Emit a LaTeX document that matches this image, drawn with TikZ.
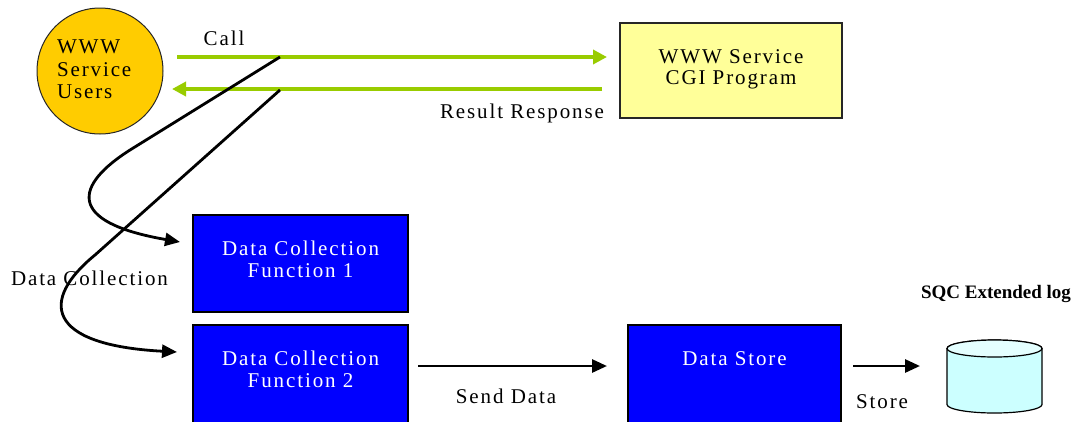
\documentclass[tikz,border=0pt]{standalone}
\usepackage{fontspec}
\setmainfont{Liberation Serif}[LetterSpace=9]
\newfontfamily\boldlabel{Liberation Serif}[LetterSpace=0]
\usetikzlibrary{arrows.meta}
\definecolor{grn}{HTML}{99CC00}
\definecolor{usersfill}{HTML}{FFCC00}
\definecolor{cgifill}{HTML}{FFFF99}
\definecolor{dbfill}{HTML}{CCFFFF}
\definecolor{dbtop}{HTML}{E4FFFF}
\definecolor{boxblue}{HTML}{0000FF}
\begin{document}
\begin{tikzpicture}[x=1pt,y=-1pt,
  every node/.style={inner sep=0pt, outer sep=0pt},
  txt/.style={font=\fontsize{21}{24}\selectfont, anchor=base},
  wtxt/.style={txt, text=white},
  bluebox/.style={draw=black, line width=1.3pt, fill=boxblue, rectangle},
  greenarrow/.style={draw=grn, line width=3.5pt, -{Triangle[length=14pt,width=14pt]}},
  blackarrow/.style={draw=black, line width=2.8pt, -{Triangle[length=15pt,width=13pt]}},
  flowcurve/.style={draw=black, line width=2.8pt, line join=round, -{Triangle[length=15pt,width=13pt]}}
]
\useasboundingbox (0,0) rectangle (1083,421);
\clip (0,0) rectangle (1083,421);
\fill[white] (0,0) rectangle (1083,421);

% users circle
\node[circle, draw=black!85, line width=1pt, fill=usersfill, minimum size=126pt] (users) at (100,71) {};
\node[txt, anchor=base west] (u1) at (57,53) {WWW};
\node[txt, anchor=base west] (u2) at (57,76) {Service};
\node[txt, anchor=base west] (u3) at (57,98) {Users};

% result response label (under CGI box)
\node[txt, anchor=base west] (resp) at (440,118) {Result Response};

% CGI box
\node[draw=black!85, line width=1.3pt, fill=cgifill, minimum width=222pt, minimum height=95pt] (cgi) at (731,70.5) {};
\node[txt] (cgi1) at (731,63) {WWW Service};
\node[txt] (cgi2) at (731,84) {CGI Program};

% call label
\node[txt] (call) at (224,45) {Call};

% green arrows
\draw[greenarrow] ([shift={(14,-14)}]users.east) -- ([shift={(-13,-13.5)}]cgi.west);
\draw[greenarrow] ([shift={(-18,18.5)}]cgi.west) -- ([shift={(9,18)}]users.east);

% data collection label
\node[txt, anchor=base west] (dclabel) at (11,285) {Data Collection};

% blue boxes
\node[bluebox, minimum width=215pt, minimum height=97pt] (dcf1) at (300.5,263.5) {};
\node[wtxt] (dcf1a) at (300.5,255) {Data Collection};
\node[wtxt] (dcf1b) at (300.5,277) {Function 1};

\node[bluebox, minimum width=215pt, minimum height=112pt] (dcf2) at (300.5,381) {};
\node[wtxt] (dcf2a) at (300.5,365) {Data Collection};
\node[wtxt] (dcf2b) at (300.5,387) {Function 2};

\node[bluebox, minimum width=213pt, minimum height=112pt] (ds) at (734.5,381) {};
\node[wtxt] (dsa) at (734.5,365) {Data Store};

% branch points on the green arrows
\coordinate (c1) at (280,57);
\coordinate (c2) at (280,90);

% data collection curves
\draw[flowcurve] (c1) -- (130,150) .. controls (75,185) and (65,222) .. ([shift={(-13,27)}]dcf1.north west);
\draw[flowcurve] (c2) -- (95,255) .. controls (40,300) and (45,345) .. ([shift={(-16,27)}]dcf2.north west);

% send data
\draw[blackarrow] ([shift={(10,41)}]dcf2.north east) -- ([shift={(-21,41)}]ds.north west);
\node[txt] (send) at (506,403) {Send Data};

% database cylinder
\node[minimum width=95pt, minimum height=73pt] (db) at (994.5,376.5) {};
\filldraw[fill=dbfill, draw=black, line width=1.2pt]
  (947,348.5) -- (947,404.5) arc[start angle=180, end angle=0, x radius=47.5, y radius=8.5]
  -- (1042,348.5) arc[start angle=0, end angle=-180, x radius=47.5, y radius=8.5] -- cycle;
\filldraw[fill=dbtop, draw=black, line width=1.2pt] (994.5,348.5) ellipse[x radius=47.5, y radius=8.5];

% store arrow
\draw[blackarrow] ([shift={(12,41)}]ds.north east) -- ([shift={(-27,-10.5)}]db.west);
\node[txt] (store) at (882,408) {Store};

\node[font=\boldlabel\bfseries\fontsize{19}{22}\selectfont, anchor=base] (sqc) at (996,298) {SQC Extended log};
\end{tikzpicture}
\end{document}
